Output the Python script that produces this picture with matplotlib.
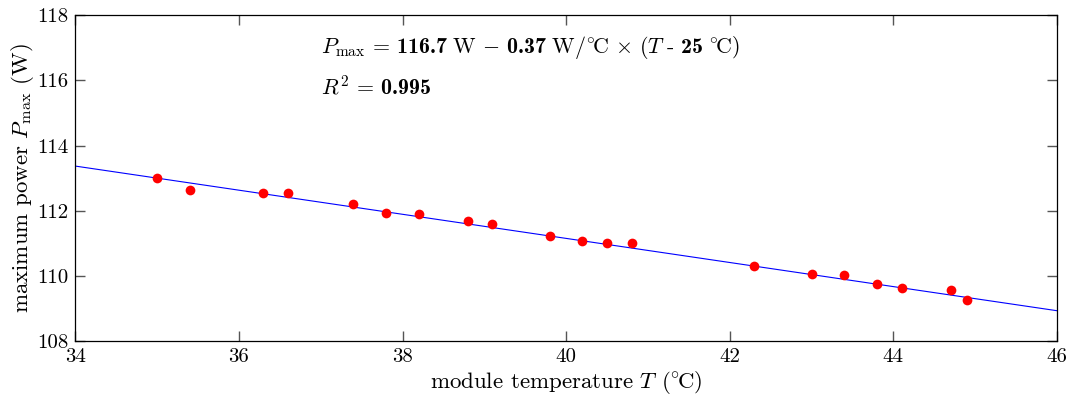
import matplotlib
matplotlib.use("Agg")
import matplotlib.pyplot as plt
import numpy as np

plt.rcParams['font.family'] = 'serif'
plt.rcParams['font.serif'] = ['cmr10']
plt.rcParams['mathtext.fontset'] = 'custom'
plt.rcParams['mathtext.rm'] = 'cmr10'
plt.rcParams['mathtext.it'] = 'cmmi10'
plt.rcParams['mathtext.bf'] = 'cmb10'
plt.rcParams['mathtext.fallback'] = 'cm'
plt.rcParams['axes.unicode_minus'] = False
plt.rcParams['axes.formatter.use_mathtext'] = True

# measured module temperature (degC) and maximum power (W)
temps = [35.0, 35.4, 36.3, 36.6, 37.4, 37.8, 38.2, 38.8, 39.1, 39.8,
         40.2, 40.5, 40.8, 42.3, 43.0, 43.4, 43.8, 44.1, 44.7, 44.9]
powers = [113.00, 112.63, 112.53, 112.54, 112.20, 111.94, 111.90, 111.67, 111.58, 111.23,
          111.08, 111.02, 111.01, 110.31, 110.06, 110.02, 109.75, 109.63, 109.56, 109.26]

# linear fit result
p_ref = 116.7
slope = 0.37
t_ref = 25
r2 = 0.995

xticks = [34, 36, 38, 40, 42, 44, 46]
yticks = [108, 110, 112, 114, 116, 118]


def makeFig():
    fig = plt.figure(figsize=(10.72, 4.01), dpi=100)
    ax = fig.add_subplot(1, 1, 1)
    fig.subplots_adjust(left=0.0702, right=0.986, top=0.962, bottom=0.1496)

    t_line = np.array([xticks[0], xticks[-1]])
    ax.plot(t_line, p_ref - slope * (t_line - t_ref), color='blue', linewidth=0.8)
    ax.plot(temps, powers, 'o', color='red', markersize=7, markeredgewidth=0)

    ax.set_xlim(xticks[0], xticks[-1])
    ax.set_ylim(yticks[0], yticks[-1])
    ax.set_xticks(xticks)
    ax.set_yticks(yticks)
    ax.set_xticklabels([str(t) for t in xticks])
    ax.set_yticklabels([str(t) for t in yticks])
    ax.tick_params(direction='in', length=7, width=1.0, color='#555555',
                   top=True, right=True, labelsize=15, pad=5)
    for s in ax.spines.values():
        s.set_linewidth(0.9)

    ax.set_xlabel(r'module temperature $T$ $(^{\circ}\!\mathrm{C})$', fontsize=16.5, labelpad=2)
    ax.set_ylabel(r'maximum power $P_\mathrm{max}$ $(\mathrm{W})$', fontsize=16.5, labelpad=1)

    eq = (r'$P_\mathrm{max}\,=\,\mathbf{%.1f}\ \mathrm{W}\,-\,\mathbf{%.2f}\ \mathrm{W/^{\circ}\!C}'
          r'\,\times\,(T\ \text{-}\ \mathbf{%d}\ \mathrm{^{\circ}\!C})$' % (p_ref, slope, t_ref))
    ax.text(37.0, 117.0, eq, fontsize=15.8, va='center', ha='left')
    ax.text(37.0, 115.83, r'$R^2\,=\,\mathbf{%.3f}$' % r2, fontsize=15.8, va='center', ha='left')

    fig.savefig('out.png', dpi=100)


if __name__ == '__main__':
    makeFig()
